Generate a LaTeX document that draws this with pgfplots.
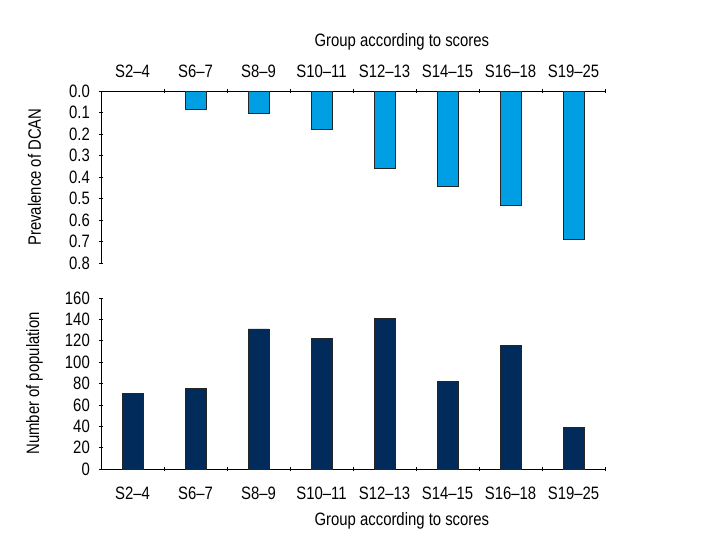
\documentclass[border=0pt]{standalone}
\usepackage{fontspec}
\setmainfont[FakeStretch=0.83]{Liberation Sans}
\usepackage{pgfplots}
\pgfplotsset{compat=1.18}
\definecolor{lblue}{HTML}{009FE3}
\definecolor{navy}{HTML}{002B5A}
\newcommand{\ff}{\fontsize{18}{18}\selectfont}
\pgfplotsset{
  common/.style={
    scale only axis, width=504bp,
    xmin=-0.5, xmax=7.5,
    tick align=inside,
    xtick={0,...,7},
    xticklabels={S2--4,S6--7,S8--9,S10--11,S12--13,S14--15,S16--18,S19--25},
    major x tick style={draw=none},
    minor xtick={0.5,1.5,...,7.5},
    minor tick length=4bp, major tick length=4bp,
    tick style={line width=0.7pt, black},
    tick label style={font=\ff, inner sep=0pt},
    yticklabel style={anchor=east, xshift=-9bp},
    /pgf/number format/assume math mode=true,
    ybar, bar width=0.33,
    clip=false,
  },
  fixlines/.style={axis line style={-, line width=0.8pt}},
}
\begin{document}
\begin{tikzpicture}
\path[use as bounding box] (0bp,0bp) rectangle (720bp,-560bp);
\begin{axis}[common, at={(101bp,-91bp)}, anchor=north west, height=172bp,
  ymin=0, ymax=0.8, y dir=reverse,
  axis x line=top, axis y line=left, fixlines,
  ytick={0,0.1,...,0.8},
  yticklabel style={/pgf/number format/.cd, fixed, fixed zerofill, precision=1},
  ylabel={Prevalence of DCAN},
  ylabel style={font=\ff, inner sep=0pt, at={(axis description cs:-0.132,0.5)}, anchor=center, rotate=0},
  xlabel={Group according to scores},
  xlabel style={font=\ff, inner sep=0pt, at={(axis description cs:0.597,1)}, anchor=center, yshift=49.5bp},
  xticklabel style={anchor=center, yshift=17.5bp},
]
\addplot[fill=lblue, draw=black!85, line width=0.7pt] coordinates {
 (1,0.084) (2,0.104) (3,0.18) (4,0.36) (5,0.442) (6,0.532) (7,0.69)};
\end{axis}
\begin{axis}[common, at={(101bp,-469bp)}, anchor=south west, height=171bp,
  ymin=0, ymax=160,
  axis x line=bottom, axis y line=left, fixlines,
  ytick={0,20,...,160},
  ylabel={Number of population},
  ylabel style={font=\ff, inner sep=0pt, at={(axis description cs:-0.132,0.5)}, anchor=center, rotate=0},
  xlabel={Group according to scores},
  xlabel style={font=\ff, inner sep=0pt, at={(axis description cs:0.597,0)}, anchor=center, yshift=-52bp},
  xticklabel style={anchor=center, yshift=-22bp},
]
\addplot[fill=navy, draw=black!85, line width=0.7pt] coordinates {
 (0,71) (1,75.4) (2,131) (3,122) (4,141) (5,82) (6,115.6) (7,39)};
\end{axis}
\end{tikzpicture}
\end{document}
